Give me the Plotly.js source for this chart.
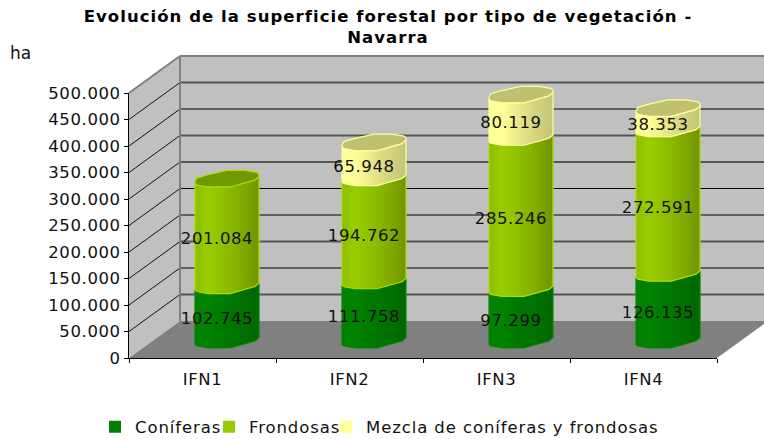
<!DOCTYPE html>
<html><head><meta charset="utf-8">
<script src="https://cdn.plot.ly/plotly-3.0.0.min.js"></script>
<style>html,body{margin:0;padding:0;background:#fff}
.gtitle{letter-spacing:1.05px}
.legendtext{letter-spacing:.9px}
.ytick text,.xtick text,.textpoint text{letter-spacing:.6px}
</style></head>
<body><div id="chart" style="width:764px;height:439px"></div>
<script>
const categories = ['IFN1','IFN2','IFN3','IFN4'];
const coniferas = [102745,111758,97299,126135];
const frondosas = [201084,194762,285246,272591];
const mezcla = [null,65948,80119,38353];
const seriesNames = ['Coníferas','Frondosas','Mezcla de coníferas y frondosas'];
const tickValues = [0,50000,100000,150000,200000,250000,300000,350000,400000,450000,500000];
const heavyGrid = [50000,150000,300000,350000,450000];

const W=764,H=439, fx0=129,fx1=717,fy0=358,fy1=93, depthX=51,depthY=37, barDX=24.5,barDY=19;
const X=p=>p/W, Y=p=>1-p/H;
const pxPerVal=(fy0-fy1)/500000, pxPerCat=(fx1-fx0)/4;
const dataX=px=>px/pxPerCat, dataY=px=>-px/pxPerVal;
const belowZero=30000; // room under the zero line for the rounded cylinder base

const frontCurve=[[-32,5.5],[-30,7],[-19,9],[3,9],[28,2],[32,-1.5]];
const backCurve=[[32,-3.5],[30,-5.5],[18,-7.5],[0,-7.5],[-20,-3],[-30,0],[-32,3]];

const styles=[
 {bar:'#007F00',line:'#008A00',stops:['#008000','#008400','#007A00','#007500','#006F00','#006600'],cap:'#006600'},
 {bar:'#99CC00',line:'#B0DC00',stops:['#8DBD00','#9ACD00','#92C300','#88B500','#7DA600','#6F9400'],cap:'#6F9900'},
 {bar:'#FFFF99',line:'#FFFF99',stops:['#FFFF99','#FFFF99','#EEEE8C','#DDDD85','#D0D07E','#C4C476'],cap:'#C0C070'}
];
const gradient=s=>({type:'horizontal',colorscale:s.map((c,i)=>[i/(s.length-1),c])});
const fmt=v=>String(v).replace(/\B(?=(\d{3})+$)/g,'.');

const traces=[];
traces.push({type:'scatter',mode:'none',x:categories,y:categories.map(()=>0),xaxis:'x',yaxis:'y',showlegend:false,hoverinfo:'skip'});

const allSeries=[coniferas,frondosas,mezcla];
const legendWidths=[69,72,300];
allSeries.forEach((vals,si)=>{
  traces.push({type:'bar',name:seriesNames[si],x:[0,1,2,3],y:vals,width:0.26,xaxis:'x2',yaxis:'y2',legendwidth:legendWidths[si],
    marker:{color:styles[si].bar,line:{width:0}},hoverinfo:'y'});
});

categories.forEach((c,i)=>{
  let level=0, topSi=0;
  allSeries.forEach((vals,si)=>{
    const v=vals[i]; if(v==null) return;
    const lo=level, hi=level+v; level=hi; topSi=si;
    const xs=[],ys=[];
    frontCurve.forEach(p=>{xs.push(i+dataX(p[0]));ys.push(lo+dataY(p[1]));});
    frontCurve.slice().reverse().forEach(p=>{xs.push(i+dataX(p[0]));ys.push(hi+dataY(p[1]));});
    xs.push(xs[0]);ys.push(ys[0]);
    traces.push({type:'scatter',mode:'lines',x:xs,y:ys,xaxis:'x2',yaxis:'y2',fill:'toself',cliponaxis:false,
      fillgradient:gradient(styles[si].stops),line:{color:styles[si].line,width:1.2},showlegend:false,hoverinfo:'skip'});
  });
  const ring=frontCurve.concat(backCurve);
  const xs=ring.map(p=>i+dataX(p[0])), ys=ring.map(p=>level+dataY(p[1]));
  xs.push(xs[0]);ys.push(ys[0]);
  traces.push({type:'scatter',mode:'lines',x:xs,y:ys,xaxis:'x2',yaxis:'y2',fill:'toself',fillcolor:styles[topSi].cap,cliponaxis:false,
    line:{color:styles[topSi].line,width:1.2},showlegend:false,hoverinfo:'skip'});
});

const lx=[],ly=[],lt=[];
categories.forEach((c,i)=>{
  let level=0;
  allSeries.forEach(vals=>{
    const v=vals[i]; if(v==null) return;
    lx.push(i+dataX(-10)); ly.push(level+v/2+dataY(8.5)); lt.push(fmt(v)); level+=v;
  });
});
traces.push({type:'scatter',mode:'text',x:lx,y:ly,text:lt,textposition:'middle center',xaxis:'x2',yaxis:'y2',
  textfont:{family:'DejaVu Sans',size:16.5,color:'#111'},showlegend:false,hoverinfo:'skip',cliponaxis:false});

const shapes=[];
const poly=(pts,fill)=>shapes.push({type:'path',xref:'paper',yref:'paper',layer:'below',
  path:'M'+pts.map(p=>X(p[0])+','+Y(p[1])).join('L')+'Z',fillcolor:fill,line:{width:0}});
const seg=(a,b,col,w)=>shapes.push({type:'line',xref:'paper',yref:'paper',layer:'below',
  x0:X(a[0]),y0:Y(a[1]),x1:X(b[0]),y1:Y(b[1]),line:{color:col,width:w}});
const bx0=fx0+depthX,bx1=fx1+depthX,by0=fy0-depthY,by1=fy1-depthY;
poly([[bx0,by0],[bx1,by0],[bx1,by1],[bx0,by1]],'#C0C0C0');
poly([[fx0,fy0],[bx0,by0],[bx0,by1],[fx0,fy1]],'#C0C0C0');
poly([[fx0,fy0],[fx1,fy0],[bx1,by0],[bx0,by0]],'#808080');
tickValues.forEach(v=>{
  if(v===0) return;
  const d=v*pxPerVal, top=v===500000, heavy=heavyGrid.includes(v);
  seg([fx0,fy0-d],[bx0,by0-d],top?'#808080':'#111',top?2:1);
  seg([bx0,by0-d],[bx1,by0-d],top?'#808080':(heavy?'#555':'#000'),top?2:(heavy?2:1));
});
seg([bx0,by0],[bx0,by1],'#808080',2);

const layout={
  width:W,height:H,margin:{l:0,r:0,t:0,b:0,autoexpand:false},paper_bgcolor:'#fff',plot_bgcolor:'rgba(0,0,0,0)',
  separators:',.',barmode:'stack',
  font:{family:'DejaVu Sans',size:16.5,color:'#111'},
  title:{text:'<b>Evolución de la superficie forestal por tipo de vegetación -<br>Navarra</b>',automargin:false,
    font:{family:'DejaVu Sans',size:16.5,color:'#000'},x:388/W,xanchor:'center',y:1-21.5/H,yanchor:'top'},
  xaxis:{domain:[X(fx0),X(fx1)],type:'category',categoryarray:categories,range:[-0.5,3.5],tickson:'boundaries',ticks:'outside',ticklen:4,
    tickcolor:'#000',showline:true,linecolor:'#000',linewidth:1,showgrid:false,zeroline:false,ticklabelstandoff:6,anchor:'y',fixedrange:true},
  yaxis:{domain:[Y(fy0),Y(fy1)],range:[0,500000],tickvals:tickValues,tickformat:',d',ticks:'outside',ticklen:4,tickcolor:'#000',
    showline:true,linecolor:'#000',linewidth:1,showgrid:false,zeroline:false,anchor:'x',fixedrange:true},
  xaxis2:{domain:[X(fx0+barDX),X(fx1+barDX)],range:[-0.5,3.5],visible:false,anchor:'y2',fixedrange:true},
  yaxis2:{domain:[Y(fy0-barDY+belowZero*pxPerVal),Y(fy1-barDY)],range:[-belowZero,500000],visible:false,anchor:'x2',fixedrange:true},
  shapes:shapes,
  annotations:[{text:'ha',xref:'paper',yref:'paper',x:X(8),y:Y(53),xanchor:'left',yanchor:'middle',showarrow:false,font:{size:17,family:'DejaVu Sans',color:'#111'}}],
  legend:{orientation:'h',x:X(95),xanchor:'left',y:Y(427),yanchor:'middle',font:{size:16.5,family:'DejaVu Sans',color:'#111'},traceorder:'normal'},
  showlegend:true
};
Plotly.newPlot('chart',traces,layout,{displayModeBar:false,staticPlot:true});
</script></body></html>
